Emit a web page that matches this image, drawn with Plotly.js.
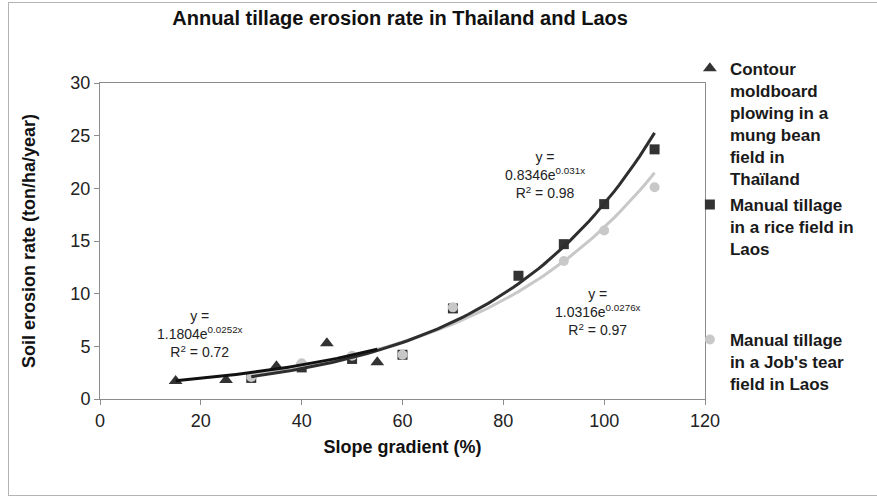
<!DOCTYPE html>
<html><head><meta charset="utf-8">
<script src="https://cdn.plot.ly/plotly-3.0.1.min.js"></script>
<style>
html,body{margin:0;padding:0;background:#fff}
#chart{width:877px;height:497px}
#frame{position:absolute;left:8px;top:2px;width:900px;height:492px;border:1px solid #b4b4b4;pointer-events:none}
</style>
</head><body><div id="chart"></div><div id="frame"></div>
<script>
// Data
const thaiX = [15, 25, 35, 45, 55];
const thaiY = [1.7, 1.8, 3.1, 5.3, 3.5];
const riceX = [30, 40, 50, 60, 70, 83, 92, 100, 110];
const riceY = [2.0, 3.0, 3.8, 4.2, 8.6, 11.7, 14.7, 18.5, 23.7];
const jobX = [30, 40, 50, 60, 70, 92, 100, 110];
const jobY = [2.1, 3.4, 4.1, 4.2, 8.7, 13.1, 16.0, 20.1];
// Exponential trendline coefficients shown on the chart: y = a*e^(b*x)
const thaiFit = [1.1804, 0.0252];
const riceFit = [0.8346, 0.031];
const jobFit = [1.0316, 0.0276];
const seriesNames = [
  "<b>Contour<br>moldboard<br>plowing in a<br>mung bean<br>field in<br>Thaïland</b>",
  "<b>Manual tillage<br>in a rice field in<br>Laos</b>",
  "<b>Manual tillage<br>in a Job's tear<br>field in Laos</b>"
];
const eqTexts = [
  "y =<br>1.1804e<sup>0.0252x</sup><br>R<sup>2</sup> = 0.72",
  "y =<br>0.8346e<sup>0.031x</sup><br>R<sup>2</sup> = 0.98",
  "y =<br>1.0316e<sup>0.0276x</sup><br>R<sup>2</sup> = 0.97"
];

function fitLine(xs, fit) {
  const lo = Math.min(...xs), hi = Math.max(...xs);
  const x = [], y = [];
  for (let v = lo; v <= hi + 1e-9; v += 1) { x.push(v); y.push(fit[0] * Math.exp(fit[1] * v)); }
  return {x, y};
}
const tThai = fitLine(thaiX, thaiFit), tRice = fitLine(riceX, riceFit), tJob = fitLine(jobX, jobFit);

const FONT = "Liberation Sans, Arial, sans-serif";
const traces = [
  {x: thaiX, y: thaiY, type: 'scatter', mode: 'markers', name: seriesNames[0], legend: 'legend',
   marker: {symbol: 'triangle-up', size: 12, color: '#333333'}},
  {x: riceX, y: riceY, type: 'scatter', mode: 'markers', name: seriesNames[1], legend: 'legend2',
   marker: {symbol: 'square', size: 10, color: '#333333'}},
  {x: jobX, y: jobY, type: 'scatter', mode: 'markers', name: seriesNames[2], legend: 'legend3',
   marker: {symbol: 'circle', size: 10, color: '#c8c8c8'}},
  {x: tJob.x, y: tJob.y, type: 'scatter', mode: 'lines', showlegend: false, hoverinfo: 'skip',
   line: {color: '#c8c8c8', width: 3}},
  {x: tRice.x, y: tRice.y, type: 'scatter', mode: 'lines', showlegend: false, hoverinfo: 'skip',
   line: {color: '#2e2e2e', width: 3}},
  {x: tThai.x, y: tThai.y, type: 'scatter', mode: 'lines', showlegend: false, hoverinfo: 'skip',
   line: {color: '#111111', width: 3}}
];

const legendBase = {xanchor: 'left', yanchor: 'top', valign: 'top', bgcolor: 'rgba(0,0,0,0)',
  font: {family: FONT, size: 17, color: '#1a1a1a'}, itemclick: false, itemdoubleclick: false};

const layout = {
  width: 877, height: 497,
  margin: {l: 100, r: 172, t: 83, b: 98},
  paper_bgcolor: '#ffffff', plot_bgcolor: '#ffffff',
  font: {family: FONT, color: '#1a1a1a'},
  title: {text: '<b>Annual tillage erosion rate in Thailand and Laos</b>', font: {family: FONT, size: 20, color: '#111'},
          xref: 'paper', x: 0.496, xanchor: 'center', yref: 'container', y: 0.964, yanchor: 'middle'},
  xaxis: {range: [0, 120], tick0: 0, dtick: 20, showgrid: false, zeroline: false, showline: true, mirror: true,
          linecolor: '#8c8c8c', linewidth: 1, ticks: 'outside', ticklen: 5, tickcolor: '#8c8c8c',
          tickfont: {family: FONT, size: 18, color: '#222'},
          title: {text: '<b>Slope gradient (%)</b>', font: {family: FONT, size: 18, color: '#111'}, standoff: 10}},
  yaxis: {range: [0, 30], tick0: 0, dtick: 5, showgrid: false, zeroline: false, showline: true, mirror: true,
          linecolor: '#8c8c8c', linewidth: 1, ticks: 'outside', ticklen: 5, tickcolor: '#8c8c8c',
          tickfont: {family: FONT, size: 18, color: '#222'},
          title: {text: '<b>Soil erosion rate (ton/ha/year)</b>', font: {family: FONT, size: 18, color: '#111'}, standoff: 30}},
  legend: Object.assign({}, legendBase, {x: 0.975, y: 1.102}),
  legend2: Object.assign({}, legendBase, {x: 0.975, y: 0.671}),
  legend3: Object.assign({}, legendBase, {x: 0.975, y: 0.244}),
  annotations: [
    {x: 19.8, y: 6.2, xref: 'x', yref: 'y', text: eqTexts[0], showarrow: false, font: {family: FONT, size: 14, color: '#222'}},
    {x: 88.3, y: 21.3, xref: 'x', yref: 'y', text: eqTexts[1], showarrow: false, font: {family: FONT, size: 14, color: '#222'}},
    {x: 98.8, y: 8.3, xref: 'x', yref: 'y', text: eqTexts[2], showarrow: false, font: {family: FONT, size: 14, color: '#222'}}
  ],
  showlegend: true
};

Plotly.newPlot('chart', traces, layout, {displayModeBar: false, staticPlot: true});
</script></body></html>
